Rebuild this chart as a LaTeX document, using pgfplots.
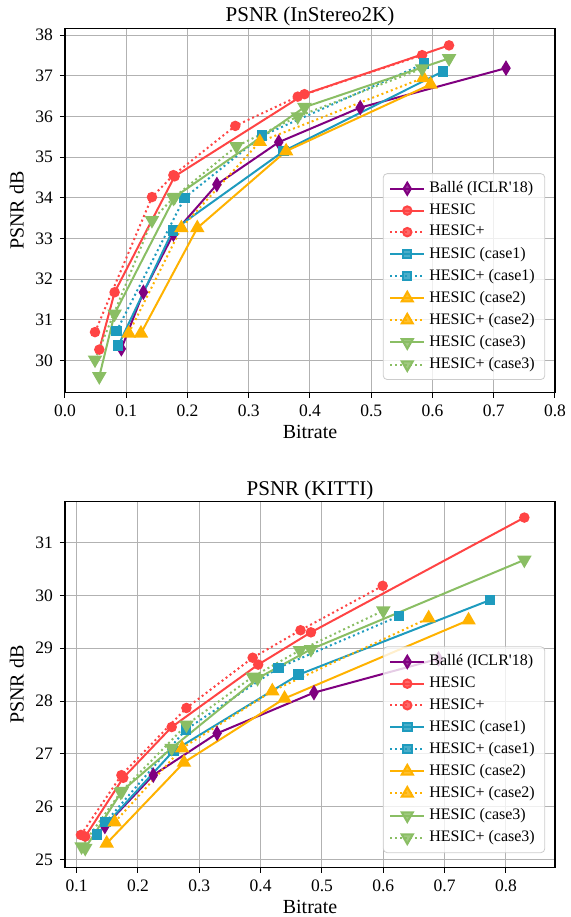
\documentclass[border=0pt]{standalone}
\usepackage{fontspec}
\setmainfont{Liberation Serif}
\usepackage{pgfplots}
\pgfplotsset{compat=1.18}

\definecolor{balle}{RGB}{128,0,128}
\definecolor{hred}{RGB}{255,68,68}
\definecolor{hcyan}{RGB}{30,155,190}
\definecolor{horange}{RGB}{255,178,0}
\definecolor{hgreen}{RGB}{138,190,100}

\pgfplotsset{
  psnr/.style={
    scale only axis, width=245pt,
    axis line style={black, line width=0.6pt},
    grid=major, major grid style={black!30, line width=0.5pt},
    tick align=outside, tick pos=left, major tick length=2.5pt,
    tick style={black, line width=0.5pt},
    ticklabel style={font=\fontsize{8.75}{10}\selectfont},
    /pgf/number format/assume math mode=true,
    xticklabel style={/pgf/number format/.cd, fixed, fixed zerofill, precision=1},
    label style={font=\fontsize{10}{12}\selectfont},
    xlabel style={yshift=2.5pt},
    ylabel style={yshift=-1pt},
    title style={font=\fontsize{10.5}{12}\selectfont, yshift=-8.5pt},
    xlabel={Bitrate}, ylabel={PSNR dB},
    legend cell align=left,
    legend style={font=\fontsize{8}{9.5}\selectfont, anchor=south east,
      draw=black!20, fill=white, fill opacity=0.8, text opacity=1, draw opacity=1,
      rounded corners=2pt},
    every axis plot/.append style={line width=1pt},
  },
  balle/.style={color=balle, mark=diamond*, mark size=3pt, mark options={xscale=0.8, solid}},
  hesic/.style={color=hred, mark=*, mark size=2.1pt, mark options={solid}},
  case1/.style={color=hcyan, mark=square*, mark size=2.1pt, mark options={solid}},
  case2/.style={color=horange, mark=triangle*, mark size=3.2pt, mark options={solid}},
  case3/.style={color=hgreen, mark=triangle*, mark size=3.2pt, mark options={solid, rotate=180}},
  plus/.style={dash pattern=on 1pt off 1.5pt},
}

\begin{document}
\begin{tikzpicture}
\useasboundingbox (0,0) rectangle (285.5pt,-458.5pt);

% InStereo2K
\begin{axis}[psnr, name=top, at={(32.5pt,-196.35pt)}, anchor=south west, height=182.2pt,
  title={PSNR (InStereo2K)},
  xmin=0, xmax=0.8, ymin=29.21, ymax=38.17,
  xtick={0,0.1,0.2,0.3,0.4,0.5,0.6,0.7,0.8}, ytick={30,31,...,38},
  legend style={at={(0.98,0.035)}},
]
\addplot[balle] coordinates {(0.092,30.29) (0.128,31.68) (0.177,33.11) (0.248,34.33) (0.349,35.37) (0.482,36.22) (0.720,37.19)};
\addlegendentry{Ballé (ICLR\textquotesingle 18)}
\addplot[hesic] coordinates {(0.056,30.27) (0.081,31.68) (0.179,34.53) (0.391,36.55) (0.627,37.75)};
\addlegendentry{HESIC}
\addplot[hesic, plus] coordinates {(0.049,30.70) (0.142,34.02) (0.177,34.56) (0.278,35.77) (0.380,36.49) (0.583,37.51)};
\addlegendentry{HESIC+}
\addplot[case1] coordinates {(0.087,30.37) (0.176,33.20) (0.357,35.15) (0.617,37.11)};
\addlegendentry{HESIC (case1)}
\addplot[case1, plus] coordinates {(0.084,30.72) (0.195,34.00) (0.322,35.53) (0.586,37.30)};
\addlegendentry{HESIC+ (case1)}
\addplot[case2] coordinates {(0.124,30.67) (0.216,33.26) (0.361,35.15) (0.597,36.79)};
\addlegendentry{HESIC (case2)}
\addplot[case2, plus] coordinates {(0.104,30.67) (0.190,33.26) (0.318,35.38) (0.585,36.95)};
\addlegendentry{HESIC+ (case2)}
\addplot[case3] coordinates {(0.056,29.61) (0.081,31.15) (0.179,34.02) (0.391,36.23) (0.627,37.43)};
\addlegendentry{HESIC (case3)}
\addplot[case3, plus] coordinates {(0.049,30.02) (0.142,33.45) (0.177,34.00) (0.280,35.27) (0.380,36.00) (0.583,37.18)};
\addlegendentry{HESIC+ (case3)}
\end{axis}

% KITTI
\begin{axis}[psnr, name=bottom, at={(32.5pt,-433.85pt)}, anchor=south west, height=183pt,
  title={PSNR (KITTI)},
  xmin=0.081, xmax=0.880, ymin=24.85, ymax=31.77,
  xtick={0.1,0.2,0.3,0.4,0.5,0.6,0.7,0.8}, ytick={25,26,...,31},
  legend style={at={(0.98,0.04)}},
]
\addplot[balle] coordinates {(0.146,25.63) (0.225,26.60) (0.329,27.39) (0.487,28.16) (0.690,28.80)};
\addlegendentry{Ballé (ICLR\textquotesingle 18)}
\addplot[hesic] coordinates {(0.114,25.44) (0.176,26.55) (0.255,27.51) (0.396,28.69) (0.482,29.30) (0.830,31.47)};
\addlegendentry{HESIC}
\addplot[hesic, plus] coordinates {(0.107,25.47) (0.173,26.60) (0.279,27.87) (0.387,28.82) (0.465,29.34) (0.599,30.18)};
\addlegendentry{HESIC+}
\addplot[case1] coordinates {(0.133,25.48) (0.258,27.06) (0.462,28.50) (0.774,29.91)};
\addlegendentry{HESIC (case1)}
\addplot[case1, plus] coordinates {(0.147,25.71) (0.278,27.46) (0.429,28.63) (0.626,29.61)};
\addlegendentry{HESIC+ (case1)}
\addplot[case2] coordinates {(0.149,25.31) (0.275,26.84) (0.439,28.05) (0.739,29.53)};
\addlegendentry{HESIC (case2)}
\addplot[case2, plus] coordinates {(0.162,25.71) (0.272,27.11) (0.419,28.19) (0.674,29.57)};
\addlegendentry{HESIC+ (case2)}
\addplot[case3] coordinates {(0.114,25.22) (0.174,26.30) (0.255,27.11) (0.395,28.43) (0.482,28.98) (0.830,30.67)};
\addlegendentry{HESIC (case3)}
\addplot[case3, plus] coordinates {(0.108,25.25) (0.172,26.28) (0.279,27.55) (0.387,28.46) (0.464,28.96) (0.600,29.71)};
\addlegendentry{HESIC+ (case3)}
\end{axis}
\end{tikzpicture}
\end{document}
